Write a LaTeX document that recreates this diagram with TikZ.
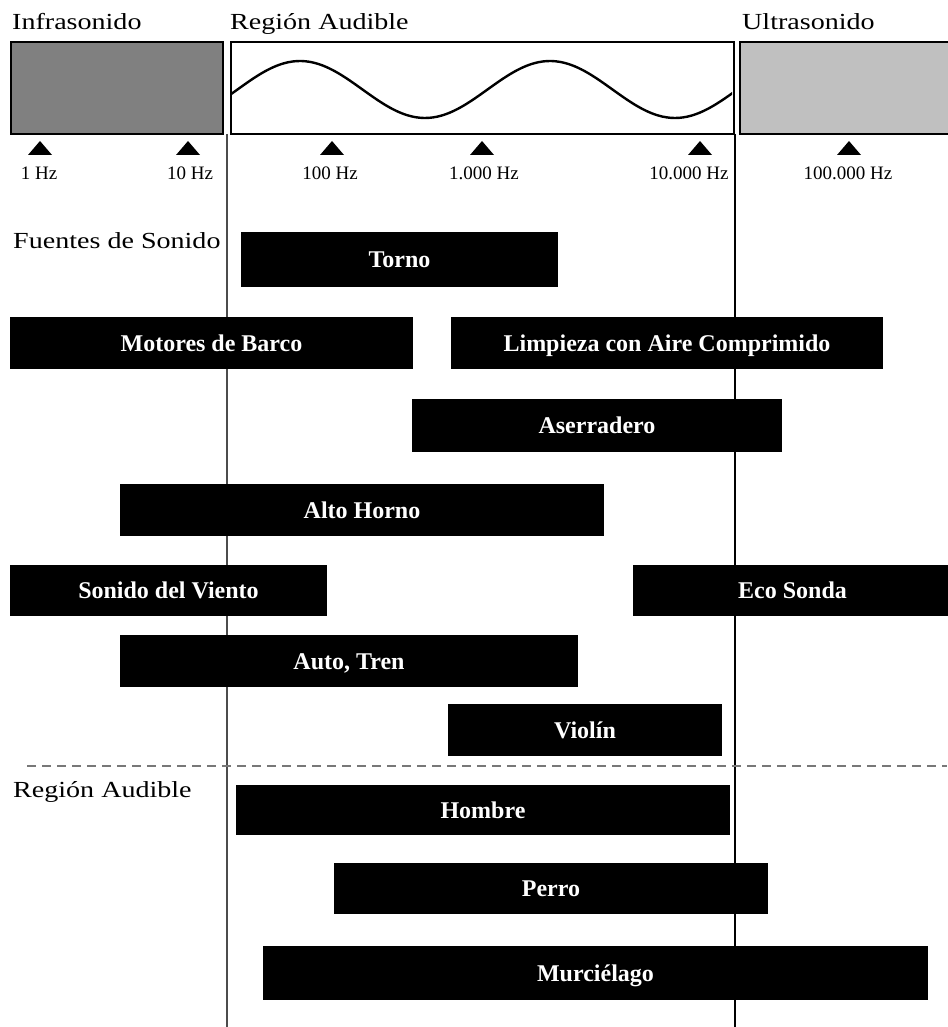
\documentclass[tikz,border=0pt]{standalone}
\usepackage{fontspec}
\setmainfont{Liberation Serif}
\definecolor{infragray}{RGB}{128,128,128}
\definecolor{ultragray}{RGB}{192,192,192}
\definecolor{dashgray}{RGB}{120,120,120}
\begin{document}
\begin{tikzpicture}[x=1pt,y=-1pt,
  bar/.style={fill=black, text=white, inner sep=0pt, text height=16pt, text depth=0pt, font=\fontsize{24}{28}\selectfont\bfseries},
  head/.style={anchor=base west, inner sep=0pt, font=\fontsize{23}{28}\selectfont},
  ticklabel/.style={anchor=base, inner sep=0pt, font=\fontsize{19}{22}\selectfont},
  band/.style={draw=black, line width=2pt, anchor=north west, inner sep=0pt},
  marker/.style={fill=black}]
\useasboundingbox (0,0) rectangle (947,1027);
% headings
\node[head] (hinfra) at (12,30) {\scalebox{1.22}[1]{Infrasonido}};
\node[head] (haud) at (230,30) {\scalebox{1.22}[1]{Región Audible}};
\node[head] (hultra) at (742,30) {\scalebox{1.22}[1]{Ultrasonido}};
% bands
\node[band, fill=infragray, minimum width=212, minimum height=92] (infra) at (10,41) {};
\node[band, fill=white, minimum width=503, minimum height=92] (aud) at (230,41) {};
\node[band, fill=ultragray, minimum width=230, minimum height=92] (ultra) at (739,41) {};
\begin{scope}
\clip (231,42) rectangle (732,132);
\draw[line width=2.4pt] plot[domain=229:734, samples=120, smooth] (\x, {89.5-28.5*cos(1.44*(\x-300))});
\end{scope}
% tick markers
\foreach \cx in {40,188,332,482,700,849}{
  \fill[marker] (\cx-12,155) -- (\cx,141) -- (\cx+12,155) -- cycle;
}
\node[ticklabel] (t1) at (39,179) {1 Hz};
\node[ticklabel] (t2) at (190,179) {10 Hz};
\node[ticklabel] (t3) at (330,179) {100 Hz};
\node[ticklabel] (t4) at (484,179) {1.000 Hz};
\node[ticklabel] (t5) at (689,179) {10.000 Hz};
\node[ticklabel] (t6) at (848,179) {100.000 Hz};
% vertical boundaries
\coordinate (lt) at (227,134);
\coordinate (lb) at (227,1027);
\coordinate (rt) at (735,134);
\coordinate (rb) at (735,1027);
\draw[line width=2pt, black!70] (lt) -- (lb);
\draw[line width=2pt, black] (rt) -- (rb);
% section labels
\node[head] (fuentes) at (13,248) {\scalebox{1.22}[1]{Fuentes de Sonido}};
\node[head] (regaud) at (13,797) {\scalebox{1.22}[1]{Región Audible}};
% dashed separator
\coordinate (dl) at (27,766);
\coordinate (dr) at (947,766);
\draw[dashgray, line width=1.2pt, dash pattern=on 8.5pt off 6.5pt] (dl) -- (dr);
% bars
\node[bar, minimum width=317, minimum height=55] (torno) at (399.5,259.5) {Torno};
\node[bar, minimum width=403, minimum height=52] (motores) at (211.5,343) {Motores de Barco};
\node[bar, minimum width=432, minimum height=52] (limpieza) at (667,343) {Limpieza con Aire Comprimido};
\node[bar, minimum width=370, minimum height=53] (aserr) at (597,425.5) {Aserradero};
\node[bar, minimum width=484, minimum height=52] (alto) at (362,510) {Alto Horno};
\node[bar, minimum width=317, minimum height=51] (viento) at (168.5,590.5) {Sonido del Viento};
\node[bar, minimum width=319, minimum height=51] (eco) at (792.5,590.5) {Eco Sonda};
\node[bar, minimum width=458, minimum height=52] (auto) at (349,661) {Auto, Tren};
\node[bar, minimum width=274, minimum height=52] (violin) at (585,730) {Violín};
\node[bar, minimum width=494, minimum height=50] (hombre) at (483,810) {Hombre};
\node[bar, minimum width=434, minimum height=51] (perro) at (551,888.5) {Perro};
\node[bar, minimum width=665, minimum height=54] (murci) at (595.5,973) {Murciélago};
\end{tikzpicture}
\end{document}
